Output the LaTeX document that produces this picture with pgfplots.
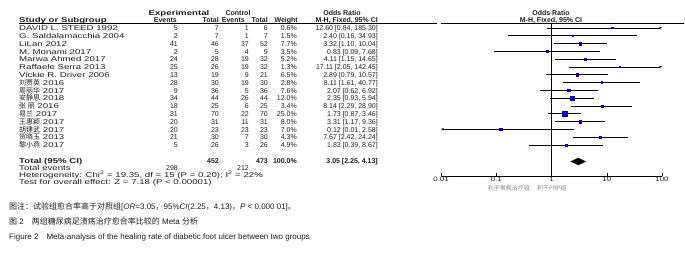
\documentclass[border=0pt]{standalone}
\usepackage{fontspec}
\setmainfont{Liberation Sans}
\newfontfamily\wide[FakeStretch=1.38]{Liberation Sans}
\newfontfamily\semiwide[FakeStretch=1.2]{Liberation Sans}
\newfontfamily\cjk{Noto Sans CJK SC}
\usepackage{pgfplots}
\pgfplotsset{compat=1.18}
\usetikzlibrary{arrows.meta}
\definecolor{sq}{RGB}{0,0,205}
\definecolor{txt}{RGB}{30,30,30}
\newcommand\rowy[1]{20.2+7.8*#1}
\newcommand\row[8]{%
 \node[anchor=mid west] at (19,{\rowy{#1}}) {\wide #2};
 \node[anchor=mid east] at (178,{\rowy{#1}}) {#3};
 \node[anchor=mid east] at (219,{\rowy{#1}}) {#4};
 \node[anchor=mid east] at (249,{\rowy{#1}}) {#5};
 \node[anchor=mid east] at (268,{\rowy{#1}}) {#6};
 \node[anchor=mid east] at (297,{\rowy{#1}}) {#7};
 \node[anchor=mid east] at (378,{\rowy{#1}}) {#8};}
\begin{document}
\begin{tikzpicture}[x=1pt,y=-1pt,font=\fontsize{7}{8}\selectfont,every node/.style={inner sep=0pt,text=txt}]
\path (0,0) rectangle (685,252);
% headers
\node[anchor=mid] at (179,13) {\wide\bfseries Experimental};
\node[anchor=mid] at (238,13) {\bfseries Control};
\node[anchor=mid] at (342,13) {\bfseries Odds Ratio};
\node[anchor=mid] at (551,13) {\bfseries Odds Ratio};
\node[anchor=mid west] at (19,20) {\wide\bfseries Study or Subgroup};
\node[anchor=mid east] at (177,20) {\bfseries Events};
\node[anchor=mid east] at (219,20) {\bfseries Total};
\node[anchor=mid east] at (245,20) {\bfseries Events};
\node[anchor=mid east] at (268,20) {\bfseries Total};
\node[anchor=mid east] at (298,20) {\bfseries Weight};
\node[anchor=mid east] at (378,20) {\bfseries M-H, Fixed, 95\% CI};
\node[anchor=mid] at (551,20) {\bfseries M-H, Fixed, 95\% CI};
\draw[line width=0.5pt] (19,23.5) -- (437,23.5);
\draw[line width=0.5pt] (441,23.5) -- (684,23.5);
% rows
\row{1}{DAVID L. STEED 1992}{5}{7}{1}{6}{0.6\%}{12.60 [0.84, 185.30]}
\row{2}{G. Saldalamacchia 2004}{2}{7}{1}{7}{1.5\%}{2.40 [0.16, 34.93]}
\row{3}{LiLan 2012}{41}{46}{37}{52}{7.7\%}{3.32 [1.10, 10.04]}
\row{4}{M. Monami 2017}{2}{5}{4}{9}{3.5\%}{0.83 [0.09, 7.68]}
\row{5}{Marwa Ahmed 2017}{24}{28}{19}{32}{5.2\%}{4.11 [1.15, 14.65]}
\row{6}{Raffaele Serra 2013}{25}{26}{19}{32}{1.3\%}{17.11 [2.05, 142.45]}
\row{7}{Vickie R. Driver 2006}{13}{19}{9}{21}{6.5\%}{2.89 [0.79, 10.57]}
\row{8}{{\cjk 刘贾英} 2016}{28}{30}{19}{30}{2.8\%}{8.11 [1.61, 40.77]}
\row{9}{{\cjk 周丽华} 2017}{9}{36}{5}{36}{7.6\%}{2.07 [0.62, 6.92]}
\row{10}{{\cjk 安静思} 2018}{34}{44}{26}{44}{12.0\%}{2.35 [0.93, 5.94]}
\row{11}{{\cjk 张\ 丽} 2016}{18}{25}{6}{25}{3.4\%}{8.14 [2.29, 28.90]}
\row{12}{{\cjk 易兰} 2017}{31}{70}{22}{70}{25.0\%}{1.73 [0.87, 3.46]}
\row{13}{{\cjk 王惠颖} 2017}{20}{31}{11}{31}{8.0\%}{3.31 [1.17, 9.36]}
\row{14}{{\cjk 胡建武} 2017}{20}{23}{23}{23}{7.0\%}{0.12 [0.01, 2.58]}
\row{15}{{\cjk 贺晓玉} 2013}{21}{30}{7}{30}{4.3\%}{7.67 [2.42, 24.24]}
\row{16}{{\cjk 黎小燕} 2017}{5}{26}{3}{26}{4.9\%}{1.83 [0.39, 8.67]}
% totals
\node[anchor=mid west] at (19,161) {\wide\bfseries Total (95\% CI)};
\node[anchor=mid east] at (219,161) {\bfseries 452};
\node[anchor=mid east] at (268,161) {\bfseries 473};
\node[anchor=mid east] at (297,161) {\bfseries 100.0\%};
\node[anchor=mid east] at (378,161) {\bfseries 3.05 [2.25, 4.13]};
\node[anchor=mid west] at (19,168) {\wide Total events};
\node[anchor=mid east] at (178,168) {298};
\node[anchor=mid east] at (249,168) {212};
\node[anchor=mid west] at (19,175) {\wide Heterogeneity: Chi\textsuperscript{2} = 19.35, df = 15 (P = 0.20); I\textsuperscript{2} = 22\%};
\node[anchor=mid west] at (19,182) {\wide Test for overall effect: Z = 7.18 (P < 0.00001)};
% axis
\begin{axis}[at={(441pt,-176pt)}, anchor=south west, scale only axis,
  width=221pt, height=156pt, xmode=log, xmin=0.01, xmax=100, ymin=-20, ymax=0,
  axis x line=bottom, axis y line=none, axis line style={-, black, line width=0.5pt},
  xtick={0.01,0.1,1,10,100}, xticklabels={0.01,0.1,1,10,100},
  xtick align=inside, major tick length=3pt, xminorticks=false,
  tick style={black, line width=0.5pt},
  xticklabel style={font=\fontsize{6.5}{7}\selectfont\semiwide, inner sep=0pt, yshift=-1pt},
  clip=false]
\addplot[black, line width=0.5pt] coordinates {(1,-0.4) (1,-20)};
% CI lines
\addplot[black, line width=0.4pt, -{Stealth[length=3pt,width=2.5pt]}] coordinates {(0.84,-1) (100,-1)};
\addplot[black, line width=0.4pt] coordinates {(0.16,-2) (34.93,-2)};
\addplot[black, line width=0.4pt] coordinates {(1.10,-3) (10.04,-3)};
\addplot[black, line width=0.4pt] coordinates {(0.09,-4) (7.68,-4)};
\addplot[black, line width=0.4pt] coordinates {(1.15,-5) (14.65,-5)};
\addplot[black, line width=0.4pt, -{Stealth[length=3pt,width=2.5pt]}] coordinates {(2.05,-6) (100,-6)};
\addplot[black, line width=0.4pt] coordinates {(0.79,-7) (10.57,-7)};
\addplot[black, line width=0.4pt] coordinates {(1.61,-8) (40.77,-8)};
\addplot[black, line width=0.4pt] coordinates {(0.62,-9) (6.92,-9)};
\addplot[black, line width=0.4pt] coordinates {(0.93,-10) (5.94,-10)};
\addplot[black, line width=0.4pt] coordinates {(2.29,-11) (28.90,-11)};
\addplot[black, line width=0.4pt] coordinates {(0.87,-12) (3.46,-12)};
\addplot[black, line width=0.4pt] coordinates {(1.17,-13) (9.36,-13)};
\addplot[black, line width=0.4pt, {Stealth[length=3pt,width=2.5pt]}-] coordinates {(0.01,-14) (2.58,-14)};
\addplot[black, line width=0.4pt] coordinates {(2.42,-15) (24.24,-15)};
\addplot[black, line width=0.4pt] coordinates {(0.39,-16) (8.67,-16)};
% squares
\addplot[only marks, mark=square*, sq, mark size=0.8pt] coordinates {(12.60,-1)};
\addplot[only marks, mark=square*, sq, mark size=0.8pt] coordinates {(2.40,-2)};
\addplot[only marks, mark=square*, sq, mark size=1.35pt] coordinates {(3.32,-3)};
\addplot[only marks, mark=square*, sq, mark size=0.95pt] coordinates {(0.83,-4)};
\addplot[only marks, mark=square*, sq, mark size=1.1pt] coordinates {(4.11,-5)};
\addplot[only marks, mark=square*, sq, mark size=0.8pt] coordinates {(17.11,-6)};
\addplot[only marks, mark=square*, sq, mark size=1.25pt] coordinates {(2.89,-7)};
\addplot[only marks, mark=square*, sq, mark size=0.85pt] coordinates {(8.11,-8)};
\addplot[only marks, mark=square*, sq, mark size=1.35pt] coordinates {(2.07,-9)};
\addplot[only marks, mark=square*, sq, mark size=1.7pt] coordinates {(2.35,-10)};
\addplot[only marks, mark=square*, sq, mark size=0.92pt] coordinates {(8.14,-11)};
\addplot[only marks, mark=square*, sq, mark size=2.5pt] coordinates {(1.73,-12)};
\addplot[only marks, mark=square*, sq, mark size=1.4pt] coordinates {(3.31,-13)};
\addplot[only marks, mark=square*, sq, mark size=1.3pt] coordinates {(0.12,-14)};
\addplot[only marks, mark=square*, sq, mark size=1.05pt] coordinates {(7.67,-15)};
\addplot[only marks, mark=square*, sq, mark size=1.1pt] coordinates {(1.83,-16)};
% diamond
\addplot[fill=black, draw=black] coordinates {(2.25,-18.14) (3.05,-17.7) (4.13,-18.14) (3.05,-18.58)} -- cycle;
\end{axis}
\node[anchor=mid east, text=gray] at (530,188) {\fontsize{6}{7}\selectfont\cjk 利于常规治疗组};
\node[anchor=mid west, text=gray] at (537,188) {\fontsize{6}{7}\selectfont\cjk 利于PRP组};
% captions
\node[anchor=mid west] at (9,207) {\fontsize{8}{9}\selectfont{\cjk 图注：试验组愈合率高于对照组}[\textit{OR}=3.05{\cjk ，}95\%\textit{CI}(2.25{\cjk ，}4.13){\cjk ，}\textit{P} < 0.000 01]{\cjk 。}};
\node[anchor=mid west] at (9,222) {\fontsize{8}{9}\selectfont{\cjk 图}\ 2\hspace{8pt}{\cjk 两组糖尿病足溃疡治疗愈合率比较的} Meta {\cjk 分析}};
\node[anchor=mid west] at (9,237) {\fontsize{8}{9}\selectfont Figure 2\hspace{8pt}Meta-analysis of the healing rate of diabetic foot ulcer between two groups};
\end{tikzpicture}
\end{document}
